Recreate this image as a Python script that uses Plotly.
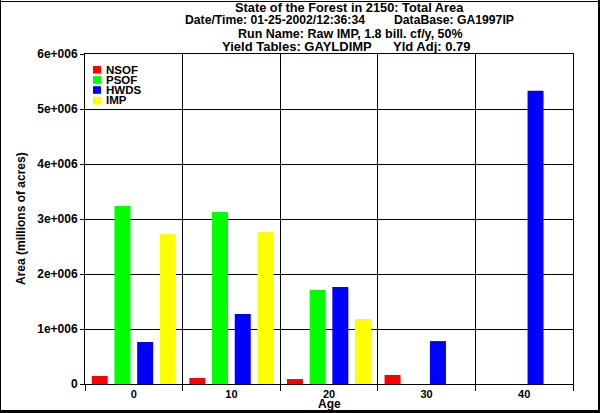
import plotly.graph_objects as go

ages = ["0", "10", "20", "30", "40"]
series_names = ["NSOF", "PSOF", "HWDS", "IMP"]
nsof = [145000, 109000, 90000, 164000, 0]
psof = [3236000, 3127000, 1709000, 0, 0]
hwds = [764000, 1273000, 1764000, 780000, 5330000]
imp = [2727000, 2764000, 1180000, 0, 0]
colors = ["#FF0000", "#00FF00", "#0000FF", "#FFFF00"]
y_tickvals = [0, 1e6, 2e6, 3e6, 4e6, 5e6, 6e6]
y_ticktext = ["0", "1e+006", "2e+006", "3e+006", "4e+006", "5e+006", "6e+006"]

FONT = "Liberation Sans, Arial, sans-serif"
L, R, T, B = 85, 573, 54, 384
W, H = 600, 413


def xp(px):
    return (px - L) / (R - L)


def yp(py):
    return (B - py) / (B - T)


fig = go.Figure()
for name, vals, col in zip(series_names, [nsof, psof, hwds, imp], colors):
    fig.add_trace(go.Bar(x=ages, y=vals, name=name, marker=dict(color=col, line=dict(width=0))))

annotations = []
# title lines: text, left px, center y px, font size
title_items = [
    ("State of the Forest in 2150: Total Area", 233, 7, 12.8),
    ("Date/Time: 01-25-2002/12:36:34", 183, 20, 12.2),
    ("DataBase: GA1997IP", 392, 20, 12.2),
    ("Run Name: Raw IMP, 1.8 bill. cf/y, 50%", 236, 33.5, 12.5),
    ("Yield Tables: GAYLDIMP", 220, 46.5, 13),
    ("Yld Adj: 0.79", 391, 46.5, 13),
]
for txt, x0, yc, fs in title_items:
    annotations.append(dict(text=txt, x=xp(x0), y=yp(yc), xref="paper", yref="paper",
                            xanchor="left", yanchor="middle", showarrow=False,
                            font=dict(family=FONT, size=fs, color="black", weight="bold")))

# legend (manual)
shapes = []
leg_y = [69.7, 79.9, 90.0, 100.5]
for name, col, yc in zip(series_names, colors, leg_y):
    shapes.append(dict(type="rect", xref="paper", yref="paper",
                       x0=xp(93), x1=xp(101), y0=yp(yc - 3.8), y1=yp(yc + 3.8),
                       fillcolor=col, line=dict(width=0)))
    annotations.append(dict(text=name, x=xp(104), y=yp(yc), xref="paper", yref="paper",
                            xanchor="left", yanchor="middle", showarrow=False,
                            font=dict(family=FONT, size=11.5, color="black", weight="bold")))

# axis titles
annotations.append(dict(text="Age", x=xp(329), y=yp(404), xref="paper", yref="paper",
                        xanchor="center", yanchor="middle", showarrow=False,
                        font=dict(family=FONT, size=12, color="black", weight="bold")))
annotations.append(dict(text="Area (millions of acres)", x=xp(21), y=yp(219), xref="paper", yref="paper",
                        xanchor="center", yanchor="middle", showarrow=False, textangle=-90,
                        font=dict(family=FONT, size=12, color="black", weight="bold")))

# outer frame
shapes += [
    dict(type="line", xref="paper", yref="paper", x0=xp(0.5), x1=xp(0.5), y0=yp(0), y1=yp(413), line=dict(color="black", width=1)),
    dict(type="line", xref="paper", yref="paper", x0=xp(0), x1=xp(600), y0=yp(1.5), y1=yp(1.5), line=dict(color="black", width=1)),
    dict(type="line", xref="paper", yref="paper", x0=xp(599), x1=xp(599), y0=yp(0), y1=yp(413), line=dict(color="black", width=2)),
    dict(type="line", xref="paper", yref="paper", x0=xp(0), x1=xp(600), y0=yp(411.5), y1=yp(411.5), line=dict(color="black", width=3)),
]

fig.update_layout(
    width=W, height=H,
    margin=dict(l=L, r=W - R, t=T, b=H - B, pad=0),
    paper_bgcolor="white", plot_bgcolor="white",
    barmode="group", bargap=0.07, bargroupgap=0.295,
    showlegend=False,
    annotations=annotations, shapes=shapes,
    font=dict(family=FONT, size=12, color="black", weight="bold"),
    xaxis=dict(type="category", categoryorder="array", categoryarray=ages,
               tickson="boundaries", ticks="outside", ticklen=6, tickwidth=1, tickcolor="black",
               showgrid=True, gridcolor="black", gridwidth=1,
               showline=True, linecolor="black", linewidth=1, mirror=True,
               tickfont=dict(family=FONT, size=11, color="black", weight="bold")),
    yaxis=dict(range=[0, 6e6], tickvals=y_tickvals, ticktext=y_ticktext,
               ticks="outside", ticklen=4, tickwidth=1, tickcolor="black",
               showgrid=True, gridcolor="black", gridwidth=1,
               zeroline=True, zerolinecolor="black", zerolinewidth=1,
               showline=True, linecolor="black", linewidth=1, mirror=True,
               tickfont=dict(family=FONT, size=12, color="black", weight="bold")),
)

fig.write_html("out.html", config={"displayModeBar": False},
               post_script="document.body.style.margin='0px';document.body.style.overflow='hidden';")
